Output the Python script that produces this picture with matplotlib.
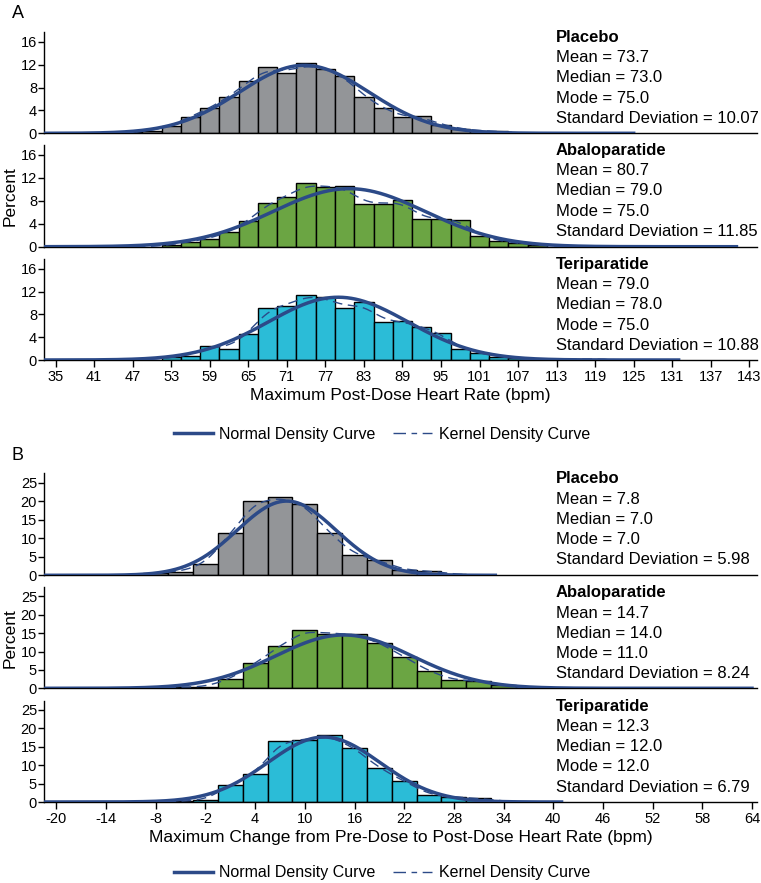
import numpy as np
import matplotlib
matplotlib.use("Agg")
import matplotlib.pyplot as plt
from matplotlib.lines import Line2D
from matplotlib import font_manager

W, H = 761, 883

# ---- data (percent per bin) ----
groups = ["Placebo", "Abaloparatide", "Teriparatide"]
bar_colors = ["#939598", "#6ba543", "#2bbcd7"]
curve_color = "#2c4a88"

# Panel A: maximum post-dose heart rate, bins of 3 bpm
a_bin_width = 3
a_plac_bins = [47, 50, 53, 56, 59, 62, 65, 68, 71, 74, 77, 80, 83, 86, 89, 92, 95, 98, 101, 104]
a_plac_pct = [0.2, 0.4, 1.3, 2.9, 4.4, 6.3, 9.1, 11.6, 10.5, 12.2, 11.3, 10.0, 6.4, 4.4, 2.8, 3.0, 1.5, 0.8, 0.4, 0.4]
a_abal_bins = [53, 56, 59, 62, 65, 68, 71, 74, 77, 80, 83, 86, 89, 92, 95, 98, 101, 104, 107, 110, 113, 116, 119]
a_abal_pct = [0.3, 0.9, 1.4, 2.5, 4.4, 7.6, 8.7, 11.0, 10.4, 10.6, 7.4, 7.5, 8.1, 4.8, 4.9, 4.7, 1.9, 1.0, 0.6, 0.3, 0.0, 0.2, 0.2]
a_teri_bins = [53, 56, 59, 62, 65, 68, 71, 74, 77, 80, 83, 86, 89, 92, 95, 98, 101, 104, 107, 110, 113, 116, 119]
a_teri_pct = [0.5, 0.7, 2.5, 2.0, 4.5, 9.2, 9.5, 11.4, 11.0, 9.1, 10.1, 6.6, 6.9, 5.8, 4.7, 2.0, 1.2, 0.6, 0.3, 0.0, 0.0, 0.2, 0.2]
a_mean = [73.7, 80.7, 79.0]
a_median = [73.0, 79.0, 78.0]
a_mode = [75.0, 75.0, 75.0]
a_sd = [10.07, 11.85, 10.88]
a_curve_end = [125, 141, 132]
a_ticks = list(range(35, 144, 6))

# Panel B: maximum change from pre-dose, bins of 3 bpm
b_bin_width = 3
b_plac_bins = [-8, -5, -2, 1, 4, 7, 10, 13, 16, 19, 22, 25, 28]
b_plac_pct = [0.7, 1.0, 3.0, 11.3, 20.0, 21.0, 19.1, 11.3, 5.5, 4.0, 1.4, 1.2, 0.3]
b_abal_bins = [-8, -5, -2, 1, 4, 7, 10, 13, 16, 19, 22, 25, 28, 31, 34, 37]
b_abal_pct = [0.2, 0.3, 0.4, 2.5, 6.8, 11.6, 15.8, 14.9, 14.9, 12.4, 8.6, 4.6, 2.2, 2.0, 1.0, 0.3]
b_teri_bins = [-5, -2, 1, 4, 7, 10, 13, 16, 19, 22, 25, 28, 31, 34]
b_teri_pct = [0.2, 0.5, 4.6, 7.5, 16.5, 16.9, 18.1, 14.7, 9.1, 5.7, 1.9, 1.4, 1.0, 0.2]
b_mean = [7.8, 14.7, 12.3]
b_median = [7.0, 14.0, 12.0]
b_mode = [7.0, 11.0, 12.0]
b_sd = [5.98, 8.24, 6.79]
b_curve_end = [33, 64, 41]
b_ticks = list(range(-20, 65, 6))


def has_font(name):
    try:
        font_manager.findfont(name, fallback_to_default=False)
        return True
    except Exception:
        return False


MAIN = "Liberation Sans" if has_font("Liberation Sans") else "DejaVu Sans"
NARROW = "Liberation Sans Narrow" if has_font("Liberation Sans Narrow") else MAIN
plt.rcParams["font.family"] = [MAIN, "DejaVu Sans"]
plt.rcParams["axes.unicode_minus"] = False


def px_axes(fig, top, bottom, left=44, right=757):
    return fig.add_axes([left / W, 1 - bottom / H, (right - left) / W, (bottom - top) / H])


def normal_pct(x, mu, sd, bw):
    return bw * 100 * np.exp(-0.5 * ((x - mu) / sd) ** 2) / (sd * np.sqrt(2 * np.pi))


def kernel_pct(x, centers, pct, bw, h):
    c = np.asarray(centers, float)[:, None]
    p = np.asarray(pct, float)[:, None]
    k = np.exp(-0.5 * ((x[None, :] - c) / h) ** 2) / (h * np.sqrt(2 * np.pi))
    return (p * bw * k).sum(axis=0)


def draw_panel(fig, tops, bottoms, data, stats, xlim, ylim, yticks, xticks,
               bw, kde_h, curve_end, xlabel):
    axes = []
    for i in range(3):
        ax = px_axes(fig, tops[i], bottoms[i])
        bins, pct = data[i]
        ax.bar(bins, pct, width=bw, color=bar_colors[i], edgecolor="black",
               linewidth=1.0, zorder=2)
        x = np.linspace(xlim[0], curve_end[i], 600)
        ax.plot(x, kernel_pct(x, bins, pct, bw, kde_h), color=curve_color,
                lw=1.0, dashes=(7, 4), zorder=3)
        mu, sd = stats[0][i], stats[3][i]
        ax.plot(x, normal_pct(x, mu, sd, bw), color=curve_color, lw=2.5, zorder=4)
        ax.set_xlim(*xlim)
        ax.set_ylim(*ylim)
        ax.set_yticks(yticks)
        for s in ("top", "right"):
            ax.spines[s].set_visible(False)
        for s in ("left", "bottom"):
            ax.spines[s].set_linewidth(1.0)
        ax.tick_params(axis="y", direction="out", length=4, width=1, pad=1,
                       labelsize=10.5)
        for lab in ax.get_yticklabels():
            lab.set_family(NARROW)
        if i < 2:
            ax.tick_params(axis="x", bottom=False, labelbottom=False)
        else:
            ax.set_xticks(xticks)
            ax.tick_params(axis="x", direction="out", length=5, width=1, pad=2,
                           labelsize=10.5)
            for lab in ax.get_xticklabels():
                lab.set_family(NARROW)
            ax.set_xlabel(xlabel, fontsize=12.5, labelpad=3)
        if i == 1:
            ax.set_ylabel("Percent", fontsize=12.5, labelpad=2)
        # summary statistics
        t = tops[i] + 5.5
        lines = [
            (groups[i], "bold"),
            (f"Mean = {stats[0][i]:.1f}", "normal"),
            (f"Median = {stats[1][i]:.1f}", "normal"),
            (f"Mode = {stats[2][i]:.1f}", "normal"),
            (f"Standard Deviation = {stats[3][i]:.2f}", "normal"),
        ]
        for j, (s, wgt) in enumerate(lines):
            fig.text(556 / W, 1 - (t + 20.2 * j) / H, s, fontsize=12,
                     fontweight=wgt, va="center", ha="left")
        axes.append(ax)
    return axes


fig = plt.figure(figsize=(W / 100, H / 100), dpi=100)
fig.patch.set_facecolor("white")

draw_panel(fig, [32, 145, 259], [133.3, 246.7, 360],
           [(a_plac_bins, a_plac_pct), (a_abal_bins, a_abal_pct), (a_teri_bins, a_teri_pct)],
           (a_mean, a_median, a_mode, a_sd),
           (33.2, 144.2), (0, 17.7), [0, 4, 8, 12, 16], a_ticks,
           a_bin_width, 2.2, a_curve_end, "Maximum Post-Dose Heart Rate (bpm)")

draw_panel(fig, [473.3, 587.3, 700.7], [575.3, 688.3, 802],
           [(b_plac_bins, b_plac_pct), (b_abal_bins, b_abal_pct), (b_teri_bins, b_teri_pct)],
           (b_mean, b_median, b_mode, b_sd),
           (-21.5, 64.6), (0, 27.5), [0, 5, 10, 15, 20, 25], b_ticks,
           b_bin_width, 1.8, b_curve_end,
           "Maximum Change from Pre-Dose to Post-Dose Heart Rate (bpm)")

fig.text(12 / W, 1 - 14 / H, "A", fontsize=13, va="center", ha="left")
fig.text(12 / W, 1 - 456 / H, "B", fontsize=13, va="center", ha="left")

handles = [Line2D([], [], color=curve_color, lw=2.5),
           Line2D([], [], color=curve_color, lw=1.0, dashes=(9, 4, 4, 4))]
labels = ["Normal Density Curve", "Kernel Density Curve"]
for y in (434, 873):
    fig.legend(handles, labels, loc="center", bbox_to_anchor=(382 / W, 1 - y / H),
               ncol=2, frameon=False, fontsize=11.5, handlelength=2.45,
               columnspacing=1.1, handletextpad=0.4)

fig.savefig("out.png", dpi=100)
